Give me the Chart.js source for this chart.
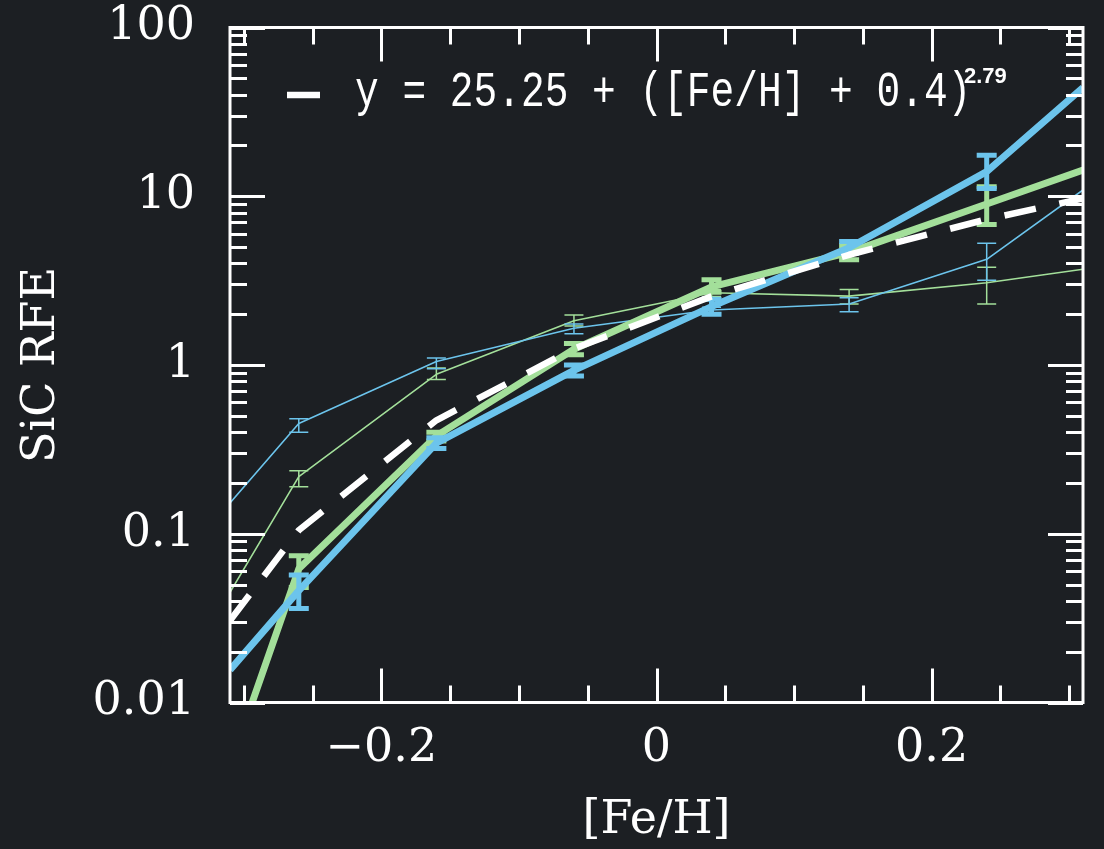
<!DOCTYPE html>
<html>
<head>
<meta charset="utf-8">
<title>SiC RFE vs [Fe/H]</title>
<script src="https://cdn.jsdelivr.net/npm/chart.js@4.4.0/dist/chart.umd.min.js"></script>
<style>
  html, body { margin: 0; padding: 0; background: #1c1f23; }
  canvas { display: block; }
</style>
</head>
<body>
<canvas id="rfe-chart" width="1104" height="849"></canvas>
<script>
// [Fe/H] bins; the first and last values are where the curves meet the frame
const feH = [-0.31, -0.26, -0.16, -0.06, 0.04, 0.14, 0.24, 0.31];

// Thick blue curve
const blueThick   = [0.0156, 0.046, 0.344, 0.93, 2.22, 4.95, 14.0, 44];
const blueThickLo = [null, 0.036, 0.32, 0.86, 2.0, 4.6, 11.1, null];
const blueThickHi = [null, 0.057, 0.37, 1.0, 2.45, 5.4, 17.5, null];

// Thick green curve
const greenThick   = [0.0042, 0.062, 0.38, 1.24, 2.9, 4.65, 9.0, 14.3];
const greenThickLo = [null, 0.048, 0.355, 1.15, 2.7, 4.2, 6.8, null];
const greenThickHi = [null, 0.074, 0.40, 1.34, 3.2, 5.1, 11.4, null];

// Thin blue curve
const blueThin   = [0.152, 0.45, 1.05, 1.65, 2.12, 2.30, 4.23, 10.9];
const blueThinLo = [null, 0.40, 0.95, 1.53, 2.03, 2.07, 3.18, null];
const blueThinHi = [null, 0.48, 1.1, 1.75, 2.2, 2.5, 5.26, null];

// Thin green curve
const greenThin   = [0.045, 0.218, 0.88, 1.83, 2.68, 2.56, 3.07, 3.69];
const greenThinLo = [null, 0.19, 0.82, 1.7, 2.55, 2.3, 2.3, null];
const greenThinHi = [null, 0.236, 0.96, 1.98, 2.8, 2.8, 3.8, null];

// Dashed fit: y = 25.25 ([Fe/H] + 0.4)^2.79
const fitCurve = [0.0306, 0.105, 0.47, 1.25, 2.55, 4.5, 7.3, 9.7];

// Tick labels
const xTickValues = [-0.2, 0, 0.2];
const yTickValues = [0.01, 0.1, 1, 10, 100];

const BG = '#1c1f23';
const BLUE = '#6cc4ec';
const GREEN = '#a3df9a';
const WHITE = '#ffffff';
const SERIF = '"DejaVu Serif", "Liberation Serif", serif';

function toPoints(values) {
  return values.map((v, i) => ({ x: feH[i], y: v }));
}

function curve(label, values, color, width, order, lo, hi, cap) {
  return {
    label: label,
    data: toPoints(values),
    borderColor: color,
    borderWidth: width,
    pointRadius: 0,
    fill: false,
    tension: 0,
    clip: 0,
    order: order,
    errLo: lo,
    errHi: hi,
    errCap: cap
  };
}

// Background
const backgroundPlugin = {
  id: 'background',
  beforeDraw(chart) {
    const ctx = chart.ctx;
    ctx.save();
    ctx.fillStyle = BG;
    ctx.fillRect(0, 0, chart.width, chart.height);
    ctx.restore();
  }
};

// Error bars, drawn together with their own curve
const errorBarPlugin = {
  id: 'errorBars',
  afterDatasetDraw(chart, args) {
    const ds = chart.data.datasets[args.index];
    if (!ds.errLo) {
      return;
    }
    const ctx = chart.ctx;
    const xs = chart.scales.x;
    const ys = chart.scales.y;
    ctx.save();
    ctx.strokeStyle = ds.borderColor;
    ctx.lineWidth = ds.errCap.width;
    ctx.lineCap = 'butt';
    ds.errLo.forEach((lo, i) => {
      const hi = ds.errHi[i];
      if (lo === null || hi === null) {
        return;
      }
      const px = xs.getPixelForValue(feH[i]);
      const pLo = ys.getPixelForValue(lo);
      const pHi = ys.getPixelForValue(hi);
      const half = ds.errCap.half;
      ctx.beginPath();
      ctx.moveTo(px, pLo);
      ctx.lineTo(px, pHi);
      ctx.moveTo(px - half, pLo);
      ctx.lineTo(px + half, pLo);
      ctx.moveTo(px - half, pHi);
      ctx.lineTo(px + half, pHi);
      ctx.stroke();
    });
    ctx.restore();
  }
};

// Frame with inward ticks on all four sides
const framePlugin = {
  id: 'frame',
  afterDatasetsDraw(chart) {
    const ctx = chart.ctx;
    const area = chart.chartArea;
    const xs = chart.scales.x;
    const ys = chart.scales.y;
    ctx.save();
    ctx.strokeStyle = WHITE;
    ctx.lineWidth = 3;
    ctx.lineCap = 'butt';

    // x ticks every 0.05, long ones on labelled values
    for (let k = -6; k <= 6; k++) {
      const v = k * 0.05;
      const px = Math.round(xs.getPixelForValue(v)) + 0.5;
      const len = (k % 4 === 0) ? 34 : 17;
      ctx.beginPath();
      ctx.moveTo(px, area.bottom);
      ctx.lineTo(px, area.bottom - len);
      ctx.moveTo(px, area.top);
      ctx.lineTo(px, area.top + len);
      ctx.stroke();
    }

    // log ticks: decades long, 2..9 short
    for (let d = -2; d <= 1; d++) {
      for (let m = 1; m <= 10; m++) {
        const v = m * Math.pow(10, d);
        const py = Math.round(ys.getPixelForValue(v)) + 0.5;
        const len = (m === 1 || m === 10) ? 35 : 17;
        ctx.beginPath();
        ctx.moveTo(area.left, py);
        ctx.lineTo(area.left + len, py);
        ctx.moveTo(area.right, py);
        ctx.lineTo(area.right - len, py);
        ctx.stroke();
      }
    }

    ctx.strokeRect(area.left, area.top, area.right - area.left, area.bottom - area.top);
    ctx.restore();
  }
};

// Legend for the dashed fit, with the exponent as superscript
const legendPlugin = {
  id: 'fitLegend',
  afterDraw(chart) {
    const ctx = chart.ctx;
    ctx.save();
    ctx.strokeStyle = WHITE;
    ctx.lineWidth = 6.5;
    ctx.beginPath();
    ctx.moveTo(287, 95);
    ctx.lineTo(320, 95);
    ctx.stroke();

    ctx.fillStyle = WHITE;
    ctx.textBaseline = 'alphabetic';
    ctx.textAlign = 'left';
    ctx.translate(355, 106);
    ctx.scale(0.79, 1);
    ctx.font = '50px "Liberation Mono", "DejaVu Sans Mono", monospace';
    ctx.fillText('y = 25.25 + ([Fe/H] + 0.4)', 0, 0);
    ctx.restore();

    ctx.save();
    ctx.fillStyle = WHITE;
    ctx.font = 'bold 22px "Liberation Sans", Arial, sans-serif';
    ctx.textBaseline = 'alphabetic';
    ctx.fillText('2.79', 964, 83);
    ctx.restore();
  }
};

const tickFont = { family: SERIF, size: 46, lineHeight: 1 };

const chart = new Chart(document.getElementById('rfe-chart'), {
  type: 'line',
  data: {
    datasets: [
      Object.assign(curve('fit', fitCurve, WHITE, 6.5, 0, null, null, null), { borderDash: [32, 24] }),
      curve('blue thick', blueThick, BLUE, 7, 1, blueThickLo, blueThickHi, { half: 10, width: 5 }),
      curve('green thick', greenThick, GREEN, 7, 2, greenThickLo, greenThickHi, { half: 10, width: 5 }),
      curve('blue thin', blueThin, BLUE, 1.6, 3, blueThinLo, blueThinHi, { half: 9.5, width: 1.5 }),
      curve('green thin', greenThin, GREEN, 1.6, 4, greenThinLo, greenThinHi, { half: 9.5, width: 1.5 })
    ]
  },
  options: {
    responsive: false,
    animation: false,
    devicePixelRatio: 1,
    layout: { padding: { top: 27.5, right: 21, bottom: 0, left: 0 } },
    elements: { line: { borderCapStyle: 'butt', borderJoinStyle: 'round' } },
    plugins: {
      legend: { display: false },
      tooltip: { enabled: false }
    },
    scales: {
      x: {
        type: 'linear',
        min: -0.31,
        max: 0.31,
        grid: { display: false, drawTicks: false },
        border: { display: false },
        afterBuildTicks: s => { s.ticks = xTickValues.map(v => ({ value: v })); },
        afterFit: s => { s.height = 146.5; s.paddingLeft = 0; s.paddingRight = 0; },
        ticks: {
          color: WHITE,
          font: tickFont,
          padding: 24,
          maxRotation: 0,
          callback: v => v === 0 ? '0' : (v < 0 ? '\u2212' : '') + Math.abs(v)
        },
        title: {
          display: true,
          text: '[Fe/H]',
          color: WHITE,
          font: tickFont,
          padding: { top: 0, bottom: 5 }
        }
      },
      y: {
        type: 'logarithmic',
        min: 0.01,
        max: 100,
        grid: { display: false, drawTicks: false },
        border: { display: false },
        afterBuildTicks: s => { s.ticks = yTickValues.map(v => ({ value: v })); },
        afterFit: s => { s.width = 230; s.paddingTop = 0; s.paddingBottom = 0; },
        ticks: {
          color: WHITE,
          font: tickFont,
          padding: 35,
          callback: v => String(v)
        },
        title: {
          display: true,
          text: 'SiC RFE',
          color: WHITE,
          font: tickFont,
          padding: { top: 19, bottom: 0 }
        }
      }
    }
  },
  plugins: [backgroundPlugin, errorBarPlugin, framePlugin, legendPlugin]
});
</script>
</body>
</html>
